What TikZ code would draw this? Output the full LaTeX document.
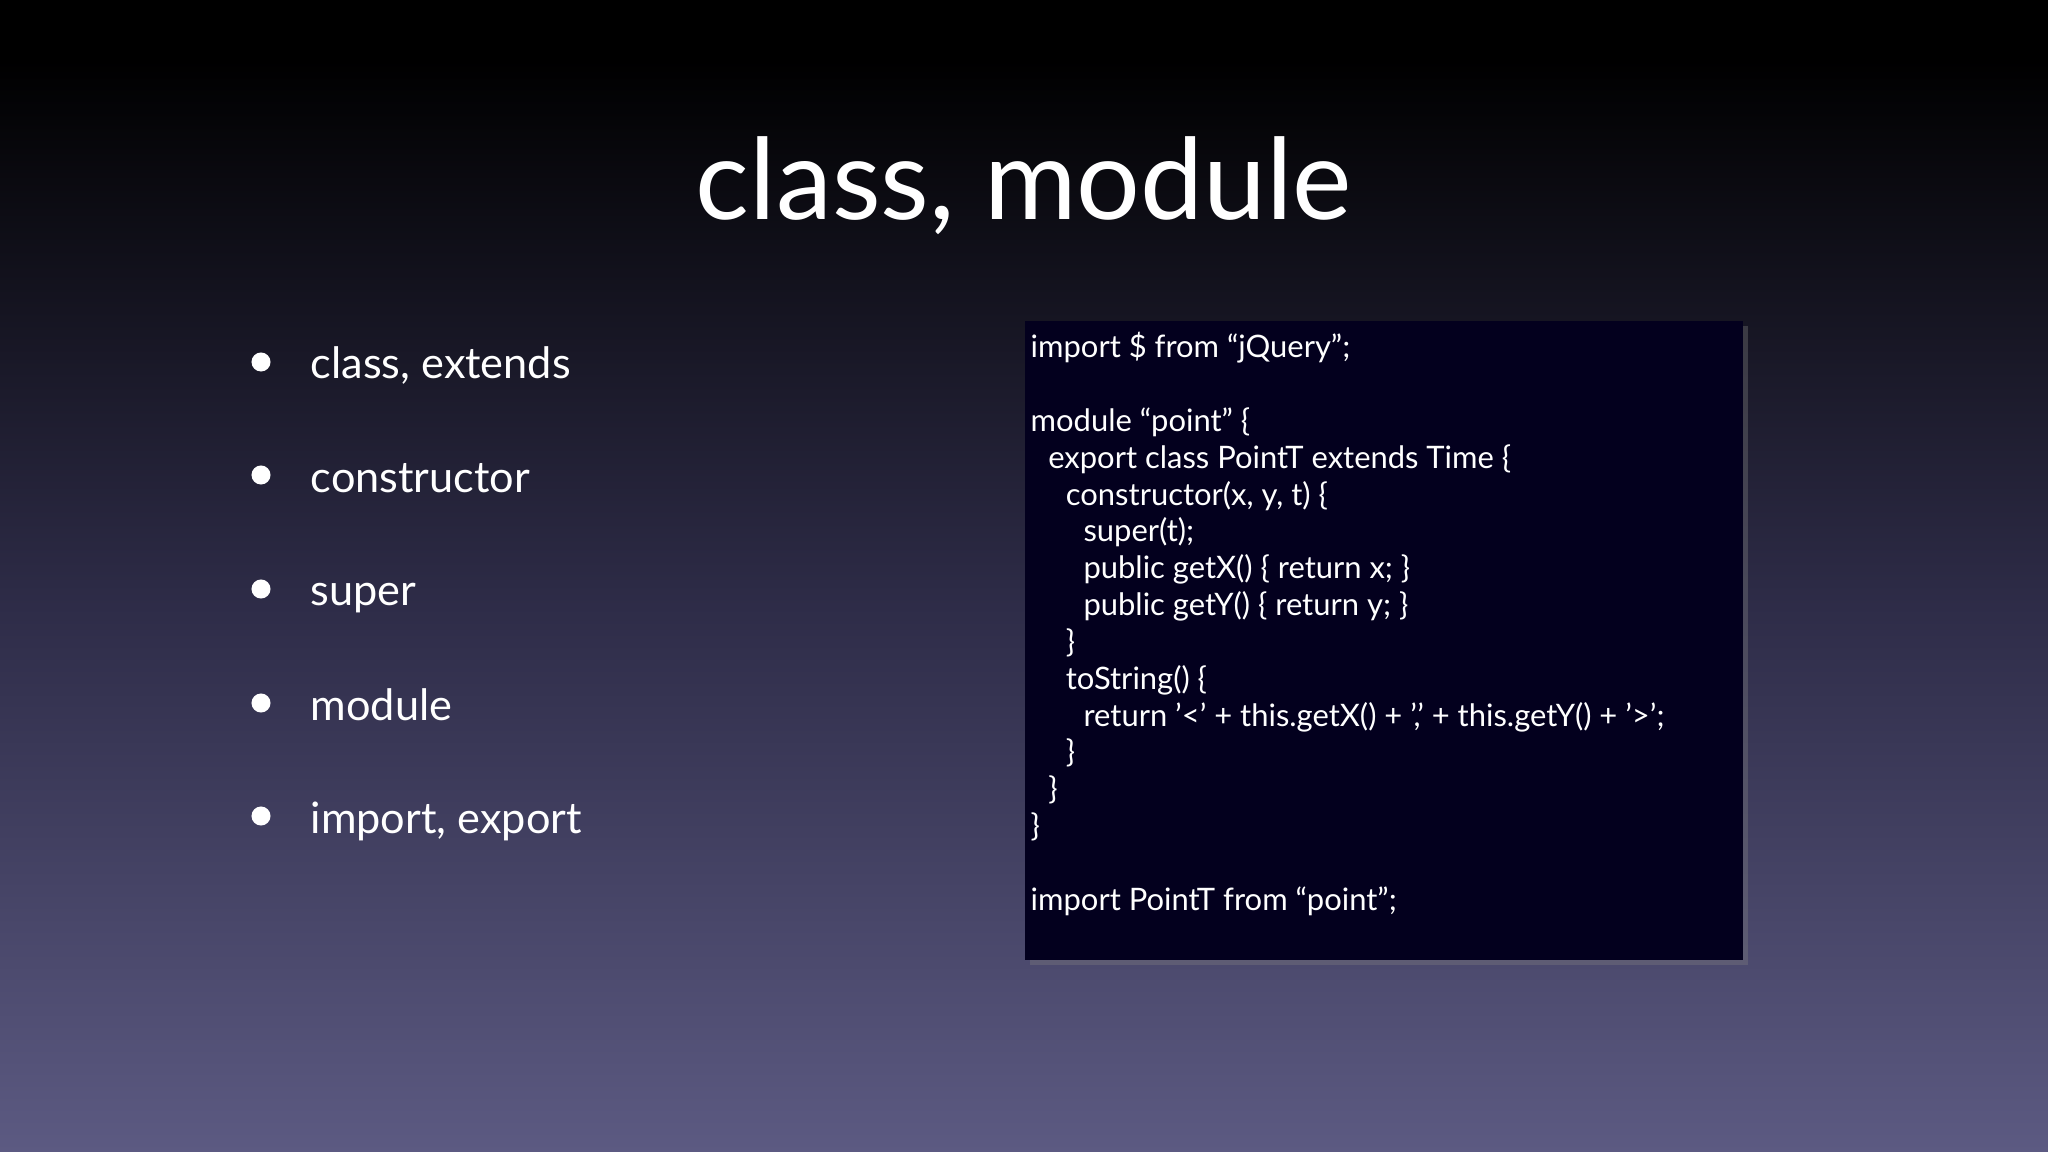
\documentclass[tikz,border=0pt]{standalone}
\usepackage{fontspec}
\setmainfont{Lato}
\usetikzlibrary{shadows}
\definecolor{codebg}{HTML}{03001E}
\definecolor{bgbot}{HTML}{5C5A82}
\definecolor{bgmid}{HTML}{2E2C48}
\newcommand{\sq}{\char"0027\relax}
\tikzset{
  bul/.style={anchor=base west,text=white,font=\fontsize{12.3pt}{15pt}\selectfont,inner sep=0pt},
  dot/.style={circle,fill=white,minimum size=0.19cm,inner sep=0pt},
  code/.style={anchor=base west,text=white,font=\fontsize{8.8pt}{10pt}\selectfont,inner sep=0pt}
}
\begin{document}
\begin{tikzpicture}[x=0.01cm,y=-0.01cm]
\useasboundingbox (0,0) rectangle (2048,1152);
\fill[black] (0,0) rectangle (2048,60);
\shade[top color=black,bottom color=bgbot,middle color=bgmid] (0,60) rectangle (2048,1152);
\node[text=white,font=\fontsize{32pt}{38pt}\selectfont] (title) at (1024,186) {class, module};
\foreach \y/\t/\n in {362/{class, extends}/b1,475/constructor/b2,589/super/b3,703/module/b4,816/{import, export}/b5}{
  \node[dot] (d\n) at (261,\y) {};
  \node[bul] (\n) at (310,\y+17) {\t};
}
\node[fill=codebg,minimum width=7.18cm,minimum height=6.39cm,anchor=north west,inner sep=0pt,
  drop shadow={shadow xshift=0.05cm,shadow yshift=-0.05cm,opacity=0.35}] (box) at (1024,320) {};
\foreach \i/\ind/\t in {
 0/0/{import \$ from “jQuery”;},
 2/0/{module “point” \{},
 3/1/{export class PointT extends Time \{},
 4/2/{constructor(x, y, t) \{},
 5/3/{super(t);},
 6/3/{public getX() \{ return x; \}},
 7/3/{public getY() \{ return y; \}},
 8/2/{\}},
 9/2/{toString() \{},
 10/3/{return \sq<\sq{} + this.getX() + \sq,\sq{} + this.getY() + \sq>\sq;},
 11/2/{\}},
 12/1/{\}},
 13/0/{\}},
 15/0/{import PointT from “point”;}}{
  \node[code] (c\i) at ({1030+17.6*\ind},{358+36.8*\i}) {\t};
}
\end{tikzpicture}
\end{document}
